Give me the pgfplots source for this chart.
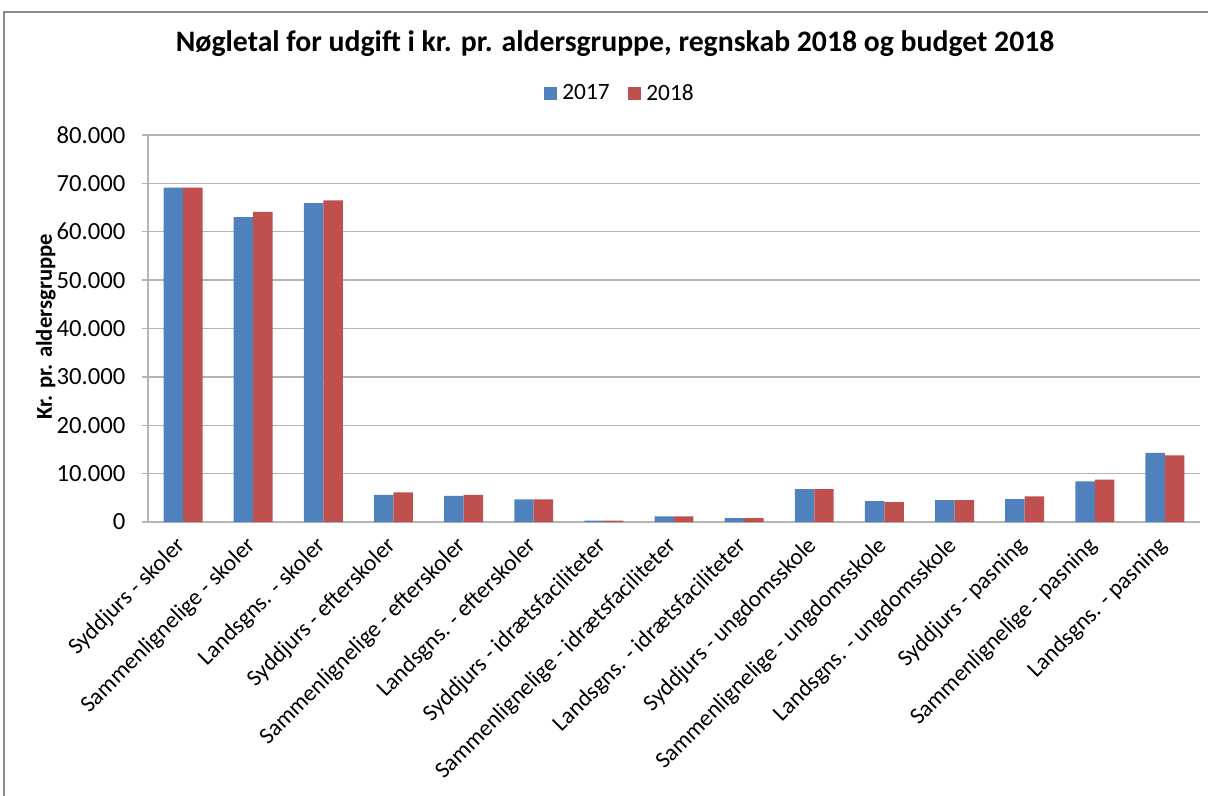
\documentclass[border=0pt]{standalone}
\usepackage{fontspec}
\setmainfont{Carlito}
\usepackage{pgfplots}
\pgfplotsset{compat=1.18}
\definecolor{blue17}{HTML}{4F81BD}
\definecolor{red18}{HTML}{C0504D}
\definecolor{gridgray}{RGB}{180,180,180}
\definecolor{framegray}{RGB}{140,140,140}
\begin{document}
\begin{tikzpicture}
% page = 1208x796 px, 1 px = 0.75 bp, plot area SW corner at (0,0)
\path[use as bounding box] (-111bp,-205.5bp) rectangle ++(906bp,597bp);
\draw[framegray, line width=1.2bp] (-108bp,-210bp) -- (-108bp,382.5bp) -- (800bp,382.5bp);
\begin{axis}[
    scale only axis,
    width=789bp, height=290.25bp,
    ybar=0pt, bar width=14.6bp,
    xmin=-0.5, xmax=14.5,
    ymin=0, ymax=80000,
    ytick distance=10000,
    scaled y ticks=false,
    yticklabel style={/pgf/number format/fixed, /pgf/number format/precision=0,
      /pgf/number format/1000 sep={.}, /pgf/number format/assume math mode=true,
      font=\fontsize{18.5bp}{22bp}\selectfont},
    yticklabel shift=9bp,
    axis x line*=bottom, axis y line*=left,
    axis line style={gridgray, line width=1bp},
    ymajorgrids, major grid style={gridgray, line width=1bp},
    tick align=outside, major tick length=4.5bp,
    ytick style={gridgray, line width=1bp},
    xtick style={draw=none},
    xtick=data,
    xticklabels={Syddjurs - skoler, Sammenlignelige - skoler, Landsgns. - skoler,
      Syddjurs - efterskoler, Sammenlignelige - efterskoler, Landsgns. - efterskoler,
      Syddjurs - idrætsfaciliteter, Sammenlignelige - idrætsfaciliteter, Landsgns. - idrætsfaciliteter,
      Syddjurs - ungdomsskole, Sammenlignelige - ungdomsskole, Landsgns. - ungdomsskole,
      Syddjurs - pasning, Sammenlignelige - pasning, Landsgns. - pasning},
    xticklabel style={rotate=45, anchor=east, xshift=-5bp, yshift=-7bp,
      font=\fontsize{17.5bp}{20bp}\selectfont},
    ylabel={Kr. pr. aldersgruppe},
    ylabel style={at={(axis description cs:-0.0972,0.504)}, anchor=center, font=\fontsize{17bp}{20bp}\selectfont\bfseries},
    title={Nøgletal for udgift i kr. pr. aldersgruppe, regnskab 2018 og budget 2018},
    title style={at={(axis description cs:0.444,1.215)}, anchor=center, font=\fontsize{22.3bp}{26bp}\selectfont\bfseries},
    legend style={at={(axis description cs:0.449,1.108)}, anchor=center, draw=none,
      legend columns=-1, font=\fontsize{17.5bp}{20bp}\selectfont,
      /tikz/every even column/.append style={column sep=12bp}},
    legend image code/.code={\fill[#1] (0bp,-4.75bp) rectangle (9.5bp,4.75bp);},
    clip=false,
  ]
\addplot[fill=blue17, draw=none] coordinates {
  (0,69100) (1,63000) (2,65900) (3,5600) (4,5400) (5,4660) (6,270) (7,1170)
  (8,820) (9,6780) (10,4310) (11,4520) (12,4720) (13,8420) (14,14310)};
\addplot[fill=red18, draw=none] coordinates {
  (0,69100) (1,64100) (2,66500) (3,6100) (4,5600) (5,4660) (6,270) (7,1170)
  (8,820) (9,6780) (10,4100) (11,4520) (12,5280) (13,8770) (14,13760)};
\legend{\hspace{2bp}2017,\hspace{2bp}2018}
\end{axis}
\end{tikzpicture}
\end{document}
